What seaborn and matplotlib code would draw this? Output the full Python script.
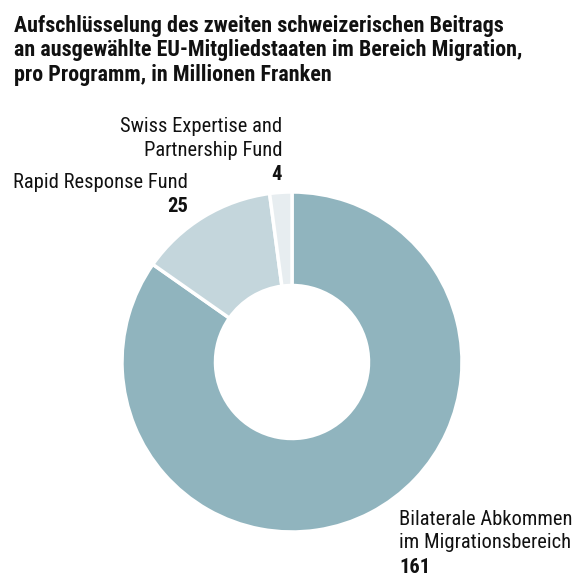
import numpy as np
import matplotlib
matplotlib.use('Agg')
import matplotlib.pyplot as plt
import seaborn as sns
from matplotlib import font_manager

programme = ['Bilaterale Abkommen\nim Migrationsbereich', 'Rapid Response Fund',
             'Swiss Expertise and\nPartnership Fund']
betrag = [161, 25, 4]
farben = ['#90b4be', '#c4d6dc', '#e7edf0']

titel = ['Aufschlüsselung des zweiten schweizerischen Beitrags',
         'an ausgewählte EU-Mitgliedstaaten im Bereich Migration,',
         'pro Programm, in Millionen Franken']

sns.set_theme(style='white')

# schmale Schrift bevorzugen, falls vorhanden
namen = {f.name for f in font_manager.fontManager.ttflist}
familie = 'Roboto'
for kandidat in ['Roboto Condensed', 'Liberation Sans Narrow', 'Roboto']:
    if kandidat in namen:
        familie = kandidat
        break
plt.rcParams['font.family'] = [familie, 'DejaVu Sans']

W = 588
fig = plt.figure(figsize=(5.88, 5.88), dpi=100)
R = 170
ax = fig.add_axes([(292 - R) / W, (W - 362 - R) / W, 2 * R / W, 2 * R / W])

ax.pie(betrag, colors=farben, startangle=90, counterclock=False,
       wedgeprops=dict(width=0.55, edgecolor='white', linewidth=2.5))
ax.set_xlim(-1, 1)
ax.set_ylim(-1, 1)
ax.set_aspect('equal')
ax.axis('off')


def px_text(x, y, s, **kw):
    fig.text(x / W, 1 - y / W, s, va='baseline', color='#111111', **kw)


# Titel, Grundlinien in Pixel
for i, zeile in enumerate(titel):
    px_text(14, 32 + 24.3 * i, zeile, ha='left', fontsize=15.8, fontweight='bold')

# Beschriftungen (x, erste Grundlinie, Ausrichtung)
label_pos = [(399, 525, 'left'), (188, 188, 'right'), (282, 132, 'right')]
for name, wert, (px, py, ha) in zip(programme, betrag, label_pos):
    zeilen = name.split('\n')
    for j, z in enumerate(zeilen):
        px_text(px, py + 23.5 * j, z, ha=ha, fontsize=14.8)
    px_text(px, py + 23.5 * len(zeilen) + 1, str(wert), ha=ha, fontsize=14.8,
            fontweight='bold')

fig.savefig('out.png', dpi=100)
plt.close(fig)
